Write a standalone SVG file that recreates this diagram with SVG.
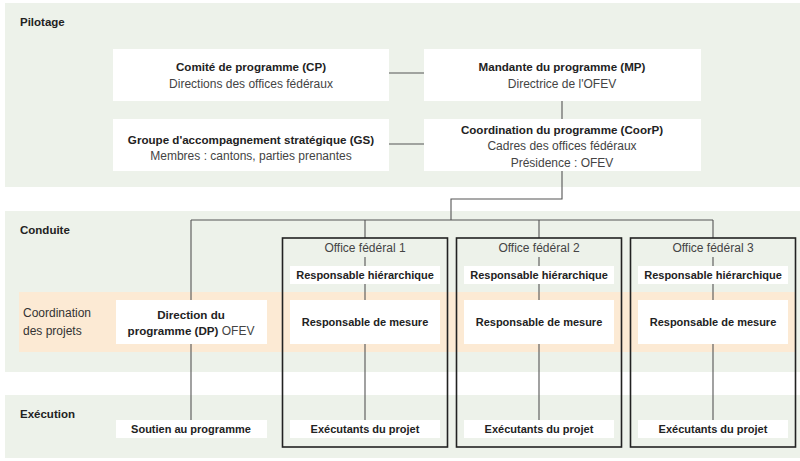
<svg xmlns="http://www.w3.org/2000/svg" width="800" height="461" viewBox="0 0 800 461">
<style>
.band{fill:#edf2ea}
.coord{fill:#fcead4}
.box{fill:#ffffff}
.office{fill:none;stroke:#222;stroke-width:1.6}
.ln{fill:none;stroke:#555;stroke-width:1.1}
text{font-family:"Liberation Sans",Arial,sans-serif;font-size:11px;fill:#222}
.b{font-weight:bold}
.t{font-size:11.6px;font-weight:bold}
.r{fill:#444;font-size:12px}
.c{text-anchor:middle}
.h{font-size:11.5px;font-weight:bold}
.lab{font-size:12px;fill:#333}
</style>
<rect width="800" height="461" fill="#ffffff"/>
<g id="bands">
<rect class="band" x="5" y="3" width="795" height="184"/>
<rect class="band" x="5" y="211" width="795" height="161"/>
<rect class="coord" x="19" y="292" width="777" height="60"/>
<rect class="band" x="5" y="395" width="795" height="63"/>
<text class="h" x="20" y="26">Pilotage</text>
<text class="h" x="20" y="234">Conduite</text>
<text class="lab" x="23" y="317">Coordination</text>
<text class="lab" x="23" y="335">des projets</text>
<text class="h" x="20" y="418">Exécution</text>
</g>
<g id="connectors">
<line class="ln" x1="389" y1="73" x2="424" y2="73"/>
<line class="ln" x1="389" y1="144" x2="424" y2="144"/>
<line class="ln" x1="562" y1="101" x2="562" y2="119"/>
<polyline class="ln" points="562,171 562,199 451,199 451,220"/>
<line class="ln" x1="191" y1="220" x2="713" y2="220"/>
<line class="ln" x1="191" y1="220" x2="191" y2="300"/>
<line class="ln" x1="191" y1="344" x2="191" y2="420"/>
<line class="ln" x1="365" y1="220" x2="365" y2="238"/>
<line class="ln" x1="539" y1="220" x2="539" y2="238"/>
<line class="ln" x1="713" y1="220" x2="713" y2="238"/>
<g>
<line class="ln" x1="365" y1="257" x2="365" y2="266"/>
<line class="ln" x1="365" y1="284" x2="365" y2="300"/>
<line class="ln" x1="365" y1="344" x2="365" y2="420"/>
<line class="ln" x1="539" y1="257" x2="539" y2="266"/>
<line class="ln" x1="539" y1="284" x2="539" y2="300"/>
<line class="ln" x1="539" y1="344" x2="539" y2="420"/>
<line class="ln" x1="713" y1="257" x2="713" y2="266"/>
<line class="ln" x1="713" y1="284" x2="713" y2="300"/>
<line class="ln" x1="713" y1="344" x2="713" y2="420"/>
</g>
</g>
<g id="cp">
<rect class="box" x="113" y="49" width="276" height="52"/>
<text class="c t" x="251" y="71">Comité de programme (CP)</text>
<text class="c r" x="251" y="88">Directions des offices fédéraux</text>
</g>
<g id="mp">
<rect class="box" x="424" y="49" width="277" height="52"/>
<text class="c t" x="562" y="71">Mandante du programme (MP)</text>
<text class="c r" x="562" y="88">Directrice de l'OFEV</text>
</g>
<g id="gs">
<rect class="box" x="113" y="119" width="276" height="52"/>
<text class="c t" x="251" y="144">Groupe d'accompagnement stratégique (GS)</text>
<text class="c r" x="251" y="160">Membres : cantons, parties prenantes</text>
</g>
<g id="coorp">
<rect class="box" x="424" y="119" width="277" height="52"/>
<text class="c t" x="562" y="134">Coordination du programme (CoorP)</text>
<text class="c r" x="562" y="150">Cadres des offices fédéraux</text>
<text class="c r" x="562" y="167">Présidence : OFEV</text>
</g>
<g id="dp">
<rect class="box" x="116" y="300" width="151" height="44"/>
<text class="c t" x="191" y="319">Direction du</text>
<text class="c" x="191" y="335"><tspan class="t">programme (DP)</tspan><tspan class="r"> OFEV</tspan></text>
</g>
<g id="soutien">
<rect class="box" x="116" y="420" width="151" height="18"/>
<text class="c b" x="191" y="433">Soutien au programme</text>
</g>
<g id="office1">
<rect class="office" x="282.5" y="238" width="165" height="209"/>
<text class="c r" x="365" y="252">Office fédéral 1</text>
<rect class="box" x="290" y="266" width="150" height="18"/>
<text class="c b" x="365" y="279">Responsable hiérarchique</text>
<rect class="box" x="290" y="300" width="150" height="44"/>
<text class="c b" x="365" y="326">Responsable de mesure</text>
<rect class="box" x="290" y="420" width="150" height="18"/>
<text class="c b" x="365" y="433">Exécutants du projet</text>
</g>
<g id="office2">
<rect class="office" x="456.5" y="238" width="165" height="209"/>
<text class="c r" x="539" y="252">Office fédéral 2</text>
<rect class="box" x="464" y="266" width="150" height="18"/>
<text class="c b" x="539" y="279">Responsable hiérarchique</text>
<rect class="box" x="464" y="300" width="150" height="44"/>
<text class="c b" x="539" y="326">Responsable de mesure</text>
<rect class="box" x="464" y="420" width="150" height="18"/>
<text class="c b" x="539" y="433">Exécutants du projet</text>
</g>
<g id="office3">
<rect class="office" x="630.5" y="238" width="165" height="209"/>
<text class="c r" x="713" y="252">Office fédéral 3</text>
<rect class="box" x="638" y="266" width="150" height="18"/>
<text class="c b" x="713" y="279">Responsable hiérarchique</text>
<rect class="box" x="638" y="300" width="150" height="44"/>
<text class="c b" x="713" y="326">Responsable de mesure</text>
<rect class="box" x="638" y="420" width="150" height="18"/>
<text class="c b" x="713" y="433">Exécutants du projet</text>
</g>
</svg>
